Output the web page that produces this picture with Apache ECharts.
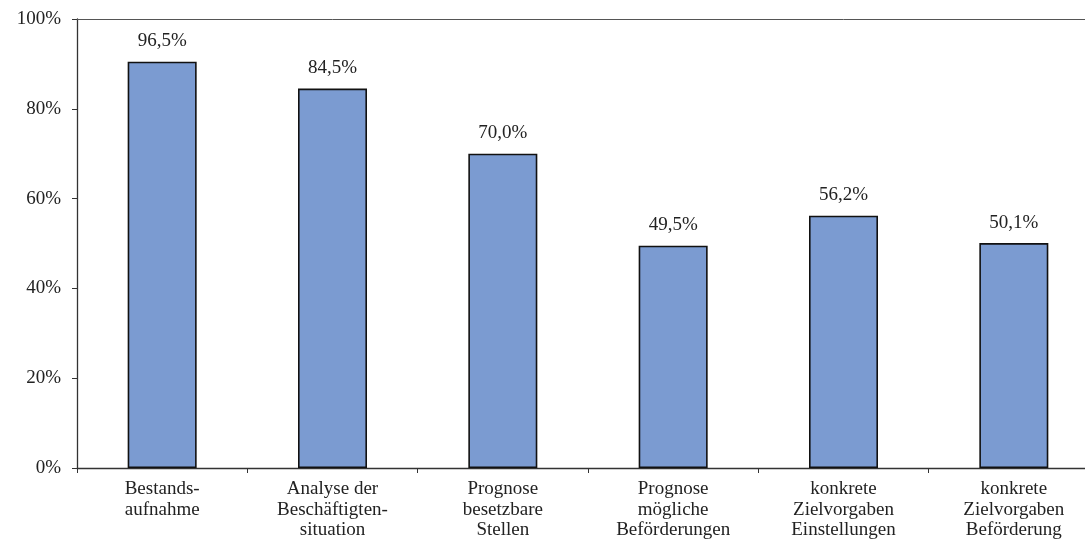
<!DOCTYPE html>
<html><head><meta charset="utf-8">
<script src="https://cdn.jsdelivr.net/npm/echarts@6/dist/echarts.min.js"></script>
<style>html,body{margin:0;padding:0;background:#fff;overflow:hidden;width:1085px;height:539px}#c{width:1110px;height:539px}</style>
</head><body><div id="c"></div>
<script>
const categories = ["Bestands-\naufnahme", "Analyse der\nBeschäftigten-\nsituation", "Prognose\nbesetzbare\nStellen", "Prognose\nmögliche\nBeförderungen", "konkrete\nZielvorgaben\nEinstellungen", "konkrete\nZielvorgaben\nBeförderung"];
const barValues = [90.5, 84.5, 70.0, 49.5, 56.2, 50.1];
const valueLabels = ["96,5%", "84,5%", "70,0%", "49,5%", "56,2%", "50,1%"];
const yTicks = [0, 20, 40, 60, 80, 100];

const font = "'Liberation Serif', 'Times New Roman', serif";
const chart = echarts.init(document.getElementById('c'), null, {renderer: 'canvas', width: 1110, height: 539});
chart.setOption({
  animation: false,
  grid: {left: 77, right: 11, top: 19, bottom: 71, containLabel: false, outerBoundsMode: 'none'},
  xAxis: [{
    type: 'category', data: categories,
    axisLine: {lineStyle: {color: '#333', width: 1.3}},
    axisTick: {show: true, length: 5, alignWithLabel: false, lineStyle: {color: '#333'}},
    axisLabel: {interval: 0, fontFamily: font, fontSize: 19, color: '#222', lineHeight: 20.5, margin: 11}
  }, {
    type: 'category', data: categories, position: 'top',
    axisLine: {show: true, lineStyle: {color: '#555', width: 1}},
    axisTick: {show: false}, axisLabel: {show: false}
  }],
  yAxis: {
    type: 'value', min: 0, max: 100, interval: 20,
    axisLine: {show: true, lineStyle: {color: '#333', width: 1.3}},
    axisTick: {show: true, length: 5, inside: false, lineStyle: {color: '#333'}},
    splitLine: {show: false},
    axisLabel: {fontFamily: font, fontSize: 19, color: '#222', margin: 16,
      formatter: v => yTicks.includes(v) ? v + '%' : ''}
  },
  series: [{
    type: 'bar', data: barValues, barWidth: 69,
    itemStyle: {color: '#7b9bd1', borderColor: '#111', borderWidth: 1.6},
    label: {show: true, position: 'top', distance: 11, fontFamily: font, fontSize: 19, color: '#222',
      formatter: p => valueLabels[p.dataIndex]}
  }]
});
</script></body></html>
